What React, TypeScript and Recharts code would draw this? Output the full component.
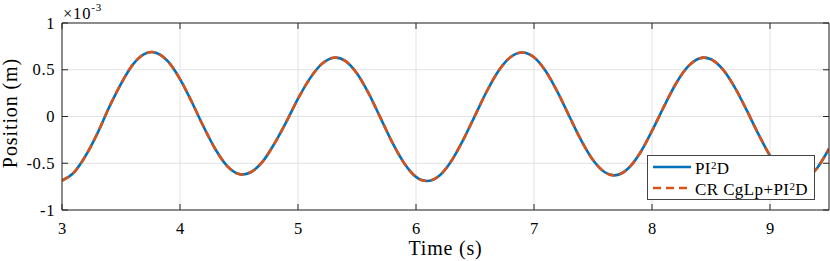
import React from 'react';
import { LineChart, Line, XAxis, YAxis, CartesianGrid, Legend } from 'recharts';

// time in seconds, position in units of 1e-3 m
const timeS = [
  3.0, 3.1, 3.2, 3.3, 3.4, 3.5, 3.6, 3.7, 3.76, 3.8, 3.9, 4.0, 4.1, 4.2, 4.3, 4.4, 4.5, 4.53,
  4.6, 4.7, 4.8, 4.9, 5.0, 5.1, 5.2, 5.3, 5.32, 5.4, 5.5, 5.6, 5.7, 5.8, 5.9, 6.0, 6.09,
  6.2, 6.3, 6.4, 6.5, 6.6, 6.7, 6.8, 6.9, 7.0, 7.1, 7.2, 7.3, 7.4, 7.5, 7.6, 7.68,
  7.8, 7.9, 8.0, 8.1, 8.2, 8.3, 8.4, 8.44, 8.5, 8.6, 8.7, 8.8, 8.9, 9.0, 9.1, 9.2, 9.24,
  9.3, 9.4, 9.5,
];
const pi2dPos = [
  -0.685, -0.6, -0.42, -0.18, 0.1, 0.35, 0.555, 0.67, 0.69, 0.68, 0.586, 0.4, 0.155, -0.11, -0.35, -0.53, -0.615, -0.62,
  -0.596, -0.483, -0.29, -0.06, 0.19, 0.405, 0.56, 0.628, 0.63, 0.595, 0.46, 0.244, -0.017, -0.28, -0.5, -0.646, -0.69,
  -0.63, -0.475, -0.25, 0.01, 0.27, 0.49, 0.634, 0.685, 0.633, 0.483, 0.26, 0.0, -0.255, -0.465, -0.596, -0.63,
  -0.554, -0.388, -0.154, 0.103, 0.345, 0.527, 0.621, 0.63, 0.612, 0.504, 0.315, 0.073, -0.184, -0.418, -0.593, -0.682, -0.69,
  -0.67, -0.55, -0.345,
];
const crCglpPos = [
  -0.684, -0.6, -0.421, -0.18, 0.1, 0.35, 0.555, 0.67, 0.69, 0.68, 0.586, 0.4, 0.156, -0.11, -0.35, -0.53, -0.615, -0.62,
  -0.596, -0.483, -0.29, -0.06, 0.19, 0.405, 0.56, 0.628, 0.63, 0.595, 0.46, 0.244, -0.017, -0.28, -0.5, -0.646, -0.69,
  -0.63, -0.475, -0.25, 0.01, 0.27, 0.49, 0.634, 0.685, 0.633, 0.483, 0.26, 0.001, -0.255, -0.465, -0.596, -0.63,
  -0.554, -0.388, -0.154, 0.103, 0.345, 0.527, 0.621, 0.63, 0.612, 0.504, 0.315, 0.073, -0.184, -0.418, -0.593, -0.682, -0.69,
  -0.67, -0.55, -0.346,
];
const xTicks = [3, 4, 5, 6, 7, 8, 9];
const yTicks = [-1, -0.5, 0, 0.5, 1];

const data = timeS.map((t, i) => ({ t, pi2d: pi2dPos[i], cr: crCglpPos[i] }));

const AXIS = '#262626';
const BLUE = '#0072BD';
const ORANGE = '#D95319';
const FONT = '"Liberation Serif", "Times New Roman", serif';
const serif = { fontFamily: FONT };

const BottomTick = (props: any) => {
  const { x, y, payload } = props;
  return (
    <g>
      <line x1={x} x2={x} y1={y} y2={y - 6} stroke={AXIS} />
      <text x={x} y={y + 23.5} textAnchor="middle" fontSize={16.5} fill="#000" style={serif}>
        {payload.value}
      </text>
    </g>
  );
};
const TopTick = (props: any) => {
  const { x, y } = props;
  return <line x1={x} x2={x} y1={y} y2={y + 6} stroke={AXIS} />;
};
const LeftTick = (props: any) => {
  const { x, y, payload } = props;
  return (
    <g>
      <line x1={x} x2={x + 6} y1={y} y2={y} stroke={AXIS} />
      <text x={x - 7} y={y + 5.5} textAnchor="end" fontSize={16.5} letterSpacing={0.6} fill="#000" style={serif}>
        {String(payload.value)}
      </text>
    </g>
  );
};
const RightTick = (props: any) => {
  const { x, y } = props;
  return <line x1={x} x2={x - 6} y1={y} y2={y} stroke={AXIS} />;
};

const LegendBox = () => (
  <div
    style={{
      background: '#fff',
      border: '1px solid #444',
      width: 166,
      height: 43,
      fontFamily: FONT,
      fontSize: 17,
      letterSpacing: 0.4,
      color: '#000',
      position: 'relative',
    }}
  >
    {[
      { name: 'PI', color: BLUE, dash: undefined as string | undefined, top: 1, pre: '' },
      { name: 'PI', color: ORANGE, dash: '8 5', top: 22, pre: 'CR CgLp+' },
    ].map((e, i) => (
      <div key={i} style={{ position: 'absolute', left: 4, top: e.top, height: 20, display: 'flex', alignItems: 'center' }}>
        <svg width={40} height={20}>
          <line x1={1} x2={39} y1={10} y2={10} stroke={e.color} strokeWidth={2.5} strokeDasharray={e.dash} />
        </svg>
        <span style={{ marginLeft: 3, lineHeight: '20px', whiteSpace: 'nowrap' }}>
          {e.pre}
          {e.name}
          <span style={{ fontSize: 11, verticalAlign: 5 }}>2</span>D
        </span>
      </div>
    ))}
  </div>
);

const YLabel = (props: any) => {
  const vb = props.viewBox || { x: 0, y: 23, width: 62, height: 187 };
  const cy = vb.y + vb.height / 2 - 3.5;
  return (
    <g fill="#000" style={serif}>
      <text x={16.5} y={cy} transform={`rotate(-90 16.5 ${cy})`} textAnchor="middle" fontSize={20} letterSpacing={0.9} style={serif}>
        Position (m)
      </text>
      <text x={63} y={19.3} fontSize={16.5} letterSpacing={0.8} style={serif}>
        ×10
        <tspan dy={-8} fontSize={11}>-3</tspan>
      </text>
    </g>
  );
};

const XLabel = (props: any) => {
  const vb = props.viewBox || { x: 62, y: 210, width: 767, height: 51 };
  return (
    <text x={vb.x + vb.width / 2} y={255} textAnchor="middle" fontSize={20} letterSpacing={0.8} fill="#000" style={serif}>
      Time (s)
    </text>
  );
};

export default function App() {
  return (
    <div style={{ position: 'absolute', left: 0, top: 0, width: 830, height: 261, background: '#fff', fontFamily: FONT }}>
      <LineChart width={830} height={261} data={data} margin={{ top: 22, right: 0, bottom: 0, left: 0 }}>
        <CartesianGrid xAxisId="b" yAxisId="l" stroke="#e2e2e2" strokeWidth={1} />
        <XAxis
          xAxisId="b"
          dataKey="t"
          type="number"
          domain={[3, 9.5]}
          ticks={xTicks}
          interval={0}
          allowDataOverflow
          height={51}
          tickSize={0}
          tickMargin={0}
          tickLine={false}
          axisLine={{ stroke: AXIS }}
          tick={<BottomTick />}
          label={<XLabel />}
        />
        <XAxis
          xAxisId="t"
          orientation="top"
          dataKey="t"
          type="number"
          domain={[3, 9.5]}
          ticks={xTicks}
          interval={0}
          allowDataOverflow
          height={1}
          tickSize={0}
          tickMargin={0}
          tickLine={false}
          axisLine={{ stroke: AXIS }}
          tick={<TopTick />}
        />
        <YAxis
          yAxisId="l"
          type="number"
          domain={[-1, 1]}
          ticks={yTicks}
          interval={0}
          allowDataOverflow
          width={62}
          tickSize={0}
          tickMargin={0}
          tickLine={false}
          axisLine={{ stroke: AXIS }}
          tick={<LeftTick />}
          label={<YLabel />}
        />
        <YAxis
          yAxisId="r"
          orientation="right"
          type="number"
          domain={[-1, 1]}
          ticks={yTicks}
          interval={0}
          allowDataOverflow
          width={1}
          tickSize={0}
          tickMargin={0}
          tickLine={false}
          axisLine={{ stroke: AXIS }}
          tick={<RightTick />}
        />
        <Line
          xAxisId="b"
          yAxisId="l"
          type="monotone"
          dataKey="pi2d"
          stroke={BLUE}
          strokeWidth={2.6}
          dot={false}
          isAnimationActive={false}
        />
        <Line
          xAxisId="b"
          yAxisId="l"
          type="monotone"
          dataKey="cr"
          stroke={ORANGE}
          strokeWidth={2.6}
          strokeDasharray="8 5"
          dot={false}
          isAnimationActive={false}
        />
        <Legend
          layout="horizontal"
          verticalAlign="middle"
          align="center"
          content={<LegendBox />}
          wrapperStyle={{ left: 647, top: 155, width: 168, height: 45 }}
        />
      </LineChart>
    </div>
  );
}
